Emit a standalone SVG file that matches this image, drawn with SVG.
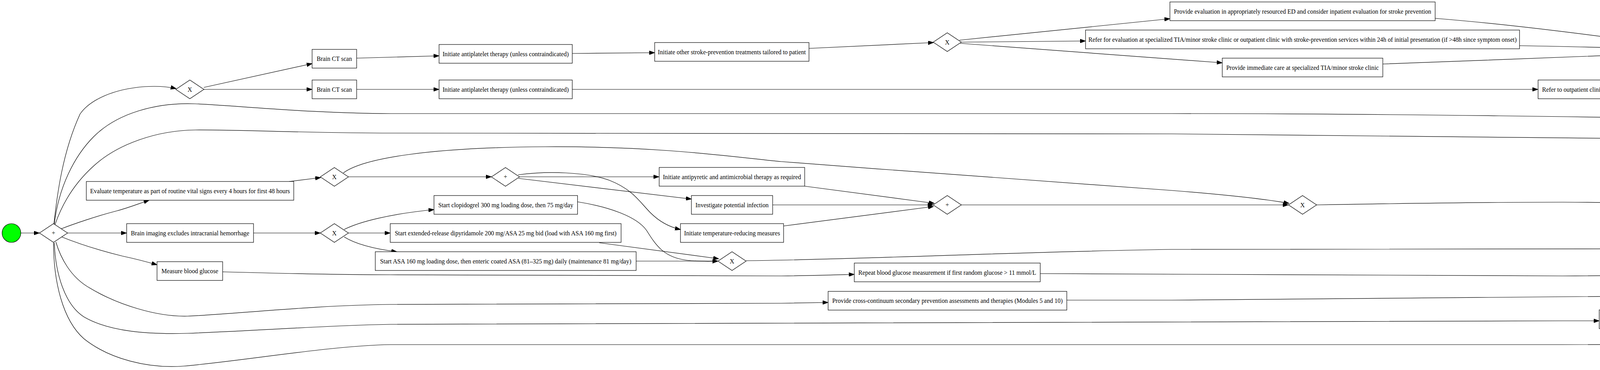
<svg xmlns="http://www.w3.org/2000/svg" width="5961" height="948" viewBox="0 0 5961 948">
<defs>
<style>
.box{fill:#ffffff;stroke:#000000;stroke-width:1.2}
.gw{fill:#ffffff;stroke:#000000;stroke-width:1.2}
.lbl{font-family:"Liberation Serif","Times New Roman",serif;font-size:15.7px;fill:#000000;text-anchor:middle}
.edges path{fill:none;stroke:#000000;stroke-width:1.2;marker-end:url(#arr)}
</style>
<marker id="arr" markerUnits="userSpaceOnUse" markerWidth="14" markerHeight="10" refX="14" refY="5" orient="auto" viewBox="0 0 14 10">
<path d="M0,0 L14,5 L0,10 z" fill="#000000" stroke="#000000" stroke-width="1"/>
</marker>
</defs>
<rect x="0" y="0" width="5961" height="948" fill="#ffffff"/>

<g class="edges" id="connectors">
<path d="M53.3,597 L101,597"/>
<path d="M138,574 C146,500 160,390 205,292 C230,256 290,228 370,222 C405,220 430,222 451,227"/>
<path d="M139,574 C150,480 190,400 240,350 C300,290 400,262 500,266 C600,270 800,291 1000,291 L3000,291 C3500,291 4200,300 4600,310 C4800,316 4950,322 5018,327"/>
<path d="M141,575 C160,520 190,470 240,425 C300,370 400,334 500,333 C600,332 800,341 1000,341 L3000,343 C3500,345 4000,352 4263,356"/>
<path d="M155,587 C190,573 250,553 300,540 C330,532 360,520 382,513"/>
<path d="M173,597 L324,597"/>
<path d="M158,607 C190,620 240,638 313,656 C350,664 380,672 402,678.5"/>
<path d="M143,620 C155,660 180,710 230,738 C300,780 400,812 480,810 C600,805 800,782 1000,780 L2000,777 C2050,776 2100,775 2120,775"/>
<path d="M139,622 C142,700 165,780 215,812 C280,850 380,857 480,854 C650,848 850,833 1000,831 L4000,822 C4040,822 4070,822 4094,822"/>
<path d="M137,622 C137,720 160,820 215,868 C280,920 380,945 470,938 C620,925 850,885 1000,883 L4000,883 C4400,882 4700,880 4879,880"/>
<path d="M521.7,224 L799,163"/>
<path d="M522,229 L799,229"/>
<path d="M913,149 L1124,143"/>
<path d="M913,229 L1124,229"/>
<path d="M1465,137 L1676,135"/>
<path d="M2071,124 L2390,109"/>
<path d="M2456,103 L2995,48"/>
<path d="M2461,108 L2779,105"/>
<path d="M2458,111 L3129,161"/>
<path d="M3674,47 C3900,65 4150,100 4351,127"/>
<path d="M3890,117 C4050,120 4250,125 4350,130"/>
<path d="M3540,164 C3800,155 4150,140 4349,133"/>
<path d="M4420,135 L5274,227"/>
<path d="M1465,229 L3937,229"/>
<path d="M4832,229 L5273,229"/>
<path d="M5345,224 C5450,212 5560,212 5640,240 C5720,268 5750,300 5770,350 C5800,430 5812,540 5821,613"/>
<path d="M5551,361 C5620,380 5700,415 5745,455 C5785,495 5805,560 5815,619"/>
<path d="M4506,363 C4800,383 5200,420 5500,464 C5650,490 5730,530 5760,555 C5785,578 5800,600 5810,621"/>
<path d="M3370,525 C3600,521 3800,518 4000,518 C4400,520 4800,535 5000,550 C5300,572 5600,600 5733,617 C5760,620 5780,625 5795,631"/>
<path d="M1910,668 C2200,665 2600,645 3000,639 C3500,637 4000,637 4500,637 L5787,637"/>
<path d="M570,696.5 C700,700 900,704 1000,704 L2000,707 C2100,706 2150,704 2187,703"/>
<path d="M2663,701 C3000,703 3500,707 4000,707 C4500,705 5000,695 5300,685 C5500,678 5700,667 5733,663 C5760,658 5780,650 5792,641"/>
<path d="M2731,769 L3000,769 C3500,767 4000,763 4500,756 C4800,751 5000,747 5300,737 C5500,730 5700,715 5733,707 C5760,697 5790,670 5806,650"/>
<path d="M4676,820 C5000,820 5300,813 5566,801 C5650,795 5720,775 5760,745 C5790,720 5805,690 5813,654"/>
<path d="M5680,855 C5720,835 5760,810 5780,770 C5800,730 5812,690 5819,658"/>
<path d="M5859,637 L5908,637"/>
<path d="M740,465 L821,455"/>
<path d="M892,453 L1258,453"/>
<path d="M879,443 C930,405 1100,378 1395,376 C1700,374 1900,405 2000,414 C2400,445 2900,480 3000,488 C3150,500 3250,512 3300,521"/>
<path d="M1330,453 L1687,453"/>
<path d="M1327,457 L1770,510"/>
<path d="M1326,448 C1400,438 1500,440 1560,462 C1620,485 1640,520 1665,545 C1690,570 1715,582 1742,588"/>
<path d="M2060,477 L2392,521"/>
<path d="M1978,525 L2389,525"/>
<path d="M2006,579 L2390,529"/>
<path d="M2461,525 L3298,525"/>
<path d="M649,597 L820,597"/>
<path d="M881,588 C920,568 1000,548 1111,537"/>
<path d="M892,597 L999,597"/>
<path d="M881,607 C910,625 960,638 1016,645"/>
<path d="M1478,517 C1560,530 1630,555 1655,590 C1680,630 1700,660 1760,667 C1790,670 1815,670 1838,669"/>
<path d="M1534,622 L1840,663"/>
<path d="M1628,669 L1838,669"/>
</g>

<g id="start"><circle cx="29.3" cy="597" r="24" fill="#00ff00" stroke="#000000" stroke-width="1.2"/></g>
<g id="split"><polygon class="gw" points="101,597 137,573 173,597 137,621"/><text class="lbl" x="137" y="602">+</text></g>
<g id="x1"><polygon class="gw" points="450,229 486,205 522,229 486,253"/><text class="lbl" x="486" y="234.5">X</text></g>
<g id="ct1"><rect class="box" x="799" y="126.5" width="114" height="48"/><text class="lbl" x="856" y="156">Brain CT scan</text></g>
<g id="ct2"><rect class="box" x="799" y="205" width="114" height="48"/><text class="lbl" x="856" y="234.5">Brain CT scan</text></g>
<g id="ap1"><rect class="box" x="1124" y="114" width="341" height="48"/><text class="lbl" x="1294.5" y="143.5">Initiate antiplatelet therapy (unless contraindicated)</text></g>
<g id="ap2"><rect class="box" x="1124" y="205" width="341" height="48"/><text class="lbl" x="1294.5" y="234.5">Initiate antiplatelet therapy (unless contraindicated)</text></g>
<g id="other"><rect class="box" x="1676" y="109" width="395" height="48"/><text class="lbl" x="1873.5" y="138.5">Initiate other stroke-prevention treatments tailored to patient</text></g>
<g id="x2"><polygon class="gw" points="2389,108 2425,84 2461,108 2425,132"/><text class="lbl" x="2425" y="113.5">X</text></g>
<g id="provEval"><rect class="box" x="2995" y="5" width="679" height="48"/><text class="lbl" x="3334.5" y="34.5">Provide evaluation in appropriately resourced ED and consider inpatient evaluation for stroke prevention</text></g>
<g id="referEval"><rect class="box" x="2779" y="77" width="1111" height="48"/><text class="lbl" x="3334.5" y="106.5">Refer for evaluation at specialized TIA/minor stroke clinic or outpatient clinic with stroke-prevention services within 24h of initial presentation (if &gt;48h since symptom onset)</text></g>
<g id="provImm"><rect class="box" x="3129" y="149" width="411" height="48"/><text class="lbl" x="3334.5" y="178.5">Provide immediate care at specialized TIA/minor stroke clinic</text></g>
<g id="x3"><polygon class="gw" points="4349,131 4385,107 4421,131 4385,155"/><text class="lbl" x="4385" y="136.5">X</text></g>
<g id="referOut"><rect class="box" x="3937.5" y="205" width="895" height="48"/><text class="lbl" x="4385" y="234.5">Refer to outpatient clinic with stroke-prevention services for comprehensive evaluation and management within 1 month of symptom onset</text></g>
<g id="x4"><polygon class="gw" points="5273.5,229 5309.5,205 5345.5,229 5309.5,253"/><text class="lbl" x="5309.5" y="234.5">X</text></g>
<g id="offer"><rect class="box" x="5018" y="313" width="584" height="48"/><text class="lbl" x="5310" y="342.5">Offer rectal or gastric ASA as necessary (e.g., for patients who fail swallowing screening)</text></g>
<g id="correct"><rect class="box" x="4263" y="333" width="243" height="48"/><text class="lbl" x="4384.5" y="362.5">Correct hypoglycemia immediately</text></g>
<g id="evalTemp"><rect class="box" x="221" y="465" width="531" height="48"/><text class="lbl" x="486.5" y="494.5">Evaluate temperature as part of routine vital signs every 4 hours for first 48 hours</text></g>
<g id="xt"><polygon class="gw" points="820,453.3 856,429.3 892,453.3 856,477.3"/><text class="lbl" x="856" y="458.8">X</text></g>
<g id="plust"><polygon class="gw" points="1258,453.3 1294,429.3 1330,453.3 1294,477.3"/><text class="lbl" x="1294" y="458.3">+</text></g>
<g id="antipyretic"><rect class="box" x="1687.5" y="429" width="372.5" height="48"/><text class="lbl" x="1873.75" y="458.5">Initiate antipyretic and antimicrobial therapy as required</text></g>
<g id="clop"><rect class="box" x="1111" y="501" width="367.5" height="48"/><text class="lbl" x="1294.75" y="530.5">Start clopidogrel 300 mg loading dose, then 75 mg/day</text></g>
<g id="invest"><rect class="box" x="1770" y="501" width="208" height="48"/><text class="lbl" x="1874" y="530.5">Investigate potential infection</text></g>
<g id="plustj"><polygon class="gw" points="2389,525 2425,501 2461,525 2425,549"/><text class="lbl" x="2425" y="530">+</text></g>
<g id="xtemp"><polygon class="gw" points="3298.5,525 3334.5,501 3370.5,525 3334.5,549"/><text class="lbl" x="3334.5" y="530.5">X</text></g>
<g id="brainImg"><rect class="box" x="324.3" y="573" width="324.7" height="48"/><text class="lbl" x="486.6" y="602.5">Brain imaging excludes intracranial hemorrhage</text></g>
<g id="xb"><polygon class="gw" points="820,597 856,573 892,597 856,621"/><text class="lbl" x="856" y="602.5">X</text></g>
<g id="extRel"><rect class="box" x="999" y="573" width="591" height="48"/><text class="lbl" x="1294.5" y="602.5">Start extended-release dipyridamole 200 mg/ASA 25 mg bid (load with ASA 160 mg first)</text></g>
<g id="tempRed"><rect class="box" x="1742" y="573" width="264" height="48"/><text class="lbl" x="1874" y="602.5">Initiate temperature-reducing measures</text></g>
<g id="asa"><rect class="box" x="960.7" y="645" width="667.8" height="48"/><text class="lbl" x="1294.6" y="674.5">Start ASA 160 mg loading dose, then enteric coated ASA (81–325 mg) daily (maintenance 81 mg/day)</text></g>
<g id="xap"><polygon class="gw" points="1838,669 1874,645 1910,669 1874,693"/><text class="lbl" x="1874" y="674.5">X</text></g>
<g id="measure"><rect class="box" x="402" y="670.5" width="168" height="48"/><text class="lbl" x="486" y="700">Measure blood glucose</text></g>
<g id="repeat"><rect class="box" x="2187" y="674" width="476" height="48"/><text class="lbl" x="2425" y="703.5">Repeat blood glucose measurement if first random glucose &gt; 11 mmol/L</text></g>
<g id="cross"><rect class="box" x="2120" y="746.5" width="611" height="48"/><text class="lbl" x="2425.5" y="776">Provide cross-continuum secondary prevention assessments and therapies (Modules 5 and 10)</text></g>
<g id="evalTIA"><rect class="box" x="4094" y="794" width="582" height="48"/><text class="lbl" x="4385" y="823.5">Evaluate TIA patients with fluctuating/crescendo symptoms in ED for possible admission</text></g>
<g id="implement"><rect class="box" x="4879" y="854" width="861" height="48"/><text class="lbl" x="5309.5" y="883.5">Implement standardized priority protocols for rapid treatment and admission to stroke unit within first few hours after ED presentation</text></g>
<g id="join"><polygon class="gw" points="5787,637 5823,613 5859,637 5823,661"/><text class="lbl" x="5823" y="642">+</text></g>
<g id="end"><circle cx="5932" cy="637" r="24" fill="#ffa500" stroke="#000000" stroke-width="1.2"/></g>
</svg>
